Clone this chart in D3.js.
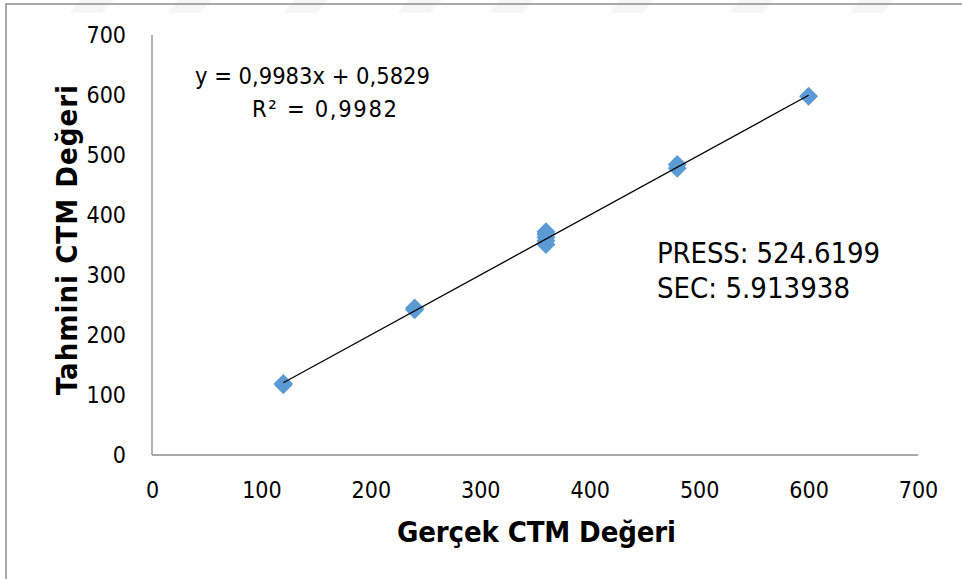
<!DOCTYPE html>
<html>
<head>
<meta charset="utf-8">
<script src="https://cdn.jsdelivr.net/npm/d3@7"></script>
<style>
  html, body { margin: 0; padding: 0; background: #fff; }
  svg { display: block; }
  text { font-family: Tahoma, "DejaVu Sans Condensed", "DejaVu Sans", sans-serif; fill: #000; }
</style>
</head>
<body>
<svg id="chart" width="962" height="579"></svg>
<script>
// Measured CTM values (x) and model predictions (y)
const actualCTM    = [120, 120, 240, 240, 360, 360, 360, 360, 360, 480, 480, 600];
const predictedCTM = [117, 119, 242, 245, 351, 357, 363, 368, 372, 478, 484, 598];

// Linear trendline coefficients
const slope = 0.9983;
const intercept = 0.5829;
const rSquared = 0.9982;

const xTicks = [0, 100, 200, 300, 400, 500, 600, 700];
const yTicks = [0, 100, 200, 300, 400, 500, 600, 700];

const equationText = "y = 0,9983x + 0,5829";
const r2Text = "R² = 0,9982";
const pressText = "PRESS: 524.6199";
const secText = "SEC: 5.913938";
const xTitle = "Gerçek CTM Değeri";
const yTitle = "Tahmini CTM Değeri";

const svg = d3.select("#chart");
const W = 962, H = 579;

// faint background stripes along the top edge
const stripeX = [80, 178, 294, 408, 500, 620, 740, 860];
svg.append("g").selectAll("path").data(stripeX).join("path")
  .attr("d", d => `M${d},0 L${d + 34},0 L${d + 22},13 L${d - 10},13 Z`)
  .attr("fill", "#f6f6f6");

// outer frame (top and left edges)
svg.append("path")
  .attr("d", `M6,${H} L6,4 L${W},4`)
  .attr("fill", "none")
  .attr("stroke", "#8c8c8c")
  .attr("stroke-width", 1.5);

const x = d3.scaleLinear().domain([0, 700]).range([152, 918]);
const y = d3.scaleLinear().domain([0, 700]).range([455, 35]);

// axes
const xAxis = d3.axisBottom(x).tickValues(xTicks).tickSize(0).tickPadding(27);
const yAxis = d3.axisLeft(y).tickValues(yTicks).tickSize(0).tickPadding(26);

const gx = svg.append("g").attr("transform", `translate(0,${y(0)})`).call(xAxis);
const gy = svg.append("g").attr("transform", `translate(${x(0)},0)`).call(yAxis);

[gx, gy].forEach(g => {
  g.select(".domain").attr("stroke", "#8c8c8c").attr("stroke-width", 1.3);
  g.selectAll("text")
    .attr("font-family", 'Tahoma, "DejaVu Sans Condensed", "DejaVu Sans", sans-serif')
    .attr("font-size", 23)
    .attr("fill", "#000");
});
gx.select(".domain").attr("d", `M${x(0)},0H${x(700)}`);
gy.select(".domain").attr("d", `M0,${y(0)}V${y(700)}`);

// data markers
const diamond = d3.symbol().type(d3.symbolDiamond2).size(230);
const pts = actualCTM.map((a, i) => ({ a, p: predictedCTM[i] }));
svg.append("g").selectAll("path").data(pts).join("path")
  .attr("transform", d => `translate(${x(d.a)},${y(d.p)})`)
  .attr("d", diamond)
  .attr("fill", "#5b9bd5");

// trendline over the data range
const xr = d3.extent(actualCTM);
svg.append("line")
  .attr("x1", x(xr[0])).attr("y1", y(slope * xr[0] + intercept))
  .attr("x2", x(xr[1])).attr("y2", y(slope * xr[1] + intercept))
  .attr("stroke", "#000")
  .attr("stroke-width", 1.3);

// trendline label
svg.append("text").attr("x", 195).attr("y", 84)
  .attr("font-size", 23.5).attr("textLength", 235).attr("lengthAdjust", "spacing")
  .text(equationText);
svg.append("text").attr("x", 252).attr("y", 117)
  .attr("font-size", 23.5).attr("textLength", 145).attr("lengthAdjust", "spacing")
  .text(r2Text);

// fit statistics
svg.append("text").attr("x", 657).attr("y", 263).attr("font-size", 29)
  .attr("textLength", 223).attr("lengthAdjust", "spacing").text(pressText);
svg.append("text").attr("x", 657).attr("y", 298).attr("font-size", 29)
  .attr("textLength", 193).attr("lengthAdjust", "spacing").text(secText);

// axis titles
svg.append("text").attr("x", 397).attr("y", 542)
  .attr("font-size", 29).attr("font-weight", "bold")
  .attr("textLength", 279).attr("lengthAdjust", "spacing").text(xTitle);
svg.append("text")
  .attr("transform", `translate(77,395) rotate(-90)`)
  .attr("font-size", 29).attr("font-weight", "bold")
  .attr("textLength", 310).attr("lengthAdjust", "spacing").text(yTitle);
</script>
</body>
</html>
